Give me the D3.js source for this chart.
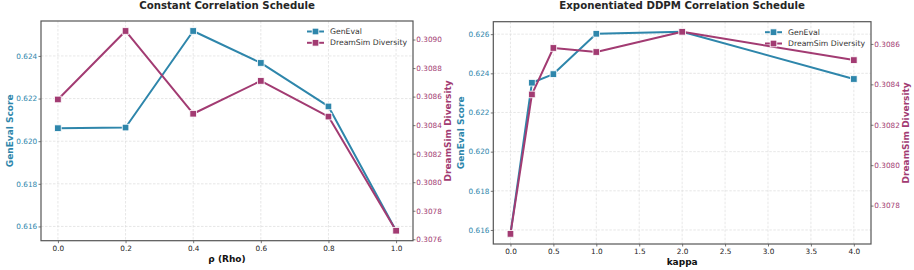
<!DOCTYPE html>
<html>
<head>
<meta charset="utf-8">
<script src="https://cdn.jsdelivr.net/npm/d3@7"></script>
<style>
  html, body { margin: 0; padding: 0; background: #fff; }
  svg { display: block; font-family: "DejaVu Sans", sans-serif; }
</style>
</head>
<body>
<svg id="chart" width="914" height="270"></svg>
<script>
// ---------- DATA ----------
const rhoValues = [0.0, 0.2, 0.4, 0.6, 0.8, 1.0];
const rhoGenEval = [0.62061, 0.62064, 0.62517, 0.62367, 0.62163, 0.6158];
const rhoDreamSim = [0.30858, 0.30906, 0.30848, 0.30871, 0.30846, 0.30766];

const kappaValues = [0.0, 0.25, 0.5, 1.0, 2.0, 4.0];
const kappaGenEval = [0.6158, 0.62352, 0.62396, 0.62602, 0.62612, 0.62371];
const kappaDreamSim = [0.30766, 0.30835, 0.30858, 0.30856, 0.30866, 0.30852];

const rhoTicks = [0.0, 0.2, 0.4, 0.6, 0.8, 1.0];
const rhoGenEvalTicks = [0.616, 0.618, 0.620, 0.622, 0.624];
const rhoDreamSimTicks = [0.3076, 0.3078, 0.3080, 0.3082, 0.3084, 0.3086, 0.3088, 0.3090];

const kappaTicks = [0.0, 0.5, 1.0, 1.5, 2.0, 2.5, 3.0, 3.5, 4.0];
const kappaGenEvalTicks = [0.616, 0.618, 0.620, 0.622, 0.624, 0.626];
const kappaDreamSimTicks = [0.3078, 0.3080, 0.3082, 0.3084, 0.3086];

const titles = ["Constant Correlation Schedule", "Exponentiated DDPM Correlation Schedule"];
const xLabels = ["ρ (Rho)", "kappa"];
const seriesNames = ["GenEval", "DreamSim Diversity"];
const axisNames = ["GenEval Score", "DreamSim Diversity"];

// ---------- STYLE ----------
const BLUE = "#2E86AB";
const MAG = "#A23B72";
const SPINE = "#555555";
const GRID = "#dcdcdc";

const svg = d3.select("#chart");

function padded(vals) {
  const [a, b] = d3.extent(vals);
  const m = (b - a) * 0.05;
  return [a - m, b + m];
}

function panel(cfg) {
  const { left, right, top, bottom } = cfg;
  const g = svg.append("g");

  const x = d3.scaleLinear().domain(padded(cfg.xs)).range([left, right]);
  const y1 = d3.scaleLinear().domain(padded(cfg.g)).range([bottom, top]);
  const y2 = d3.scaleLinear().domain(padded(cfg.d)).range([bottom, top]);

  // grid
  const grid = g.append("g");
  grid.selectAll("line.vx").data(cfg.xTicks).enter().append("line")
    .attr("x1", d => x(d)).attr("x2", d => x(d))
    .attr("y1", top).attr("y2", bottom)
    .attr("stroke", GRID).attr("stroke-width", 0.7).attr("stroke-dasharray", "2.5,1.5");
  grid.selectAll("line.hy").data(cfg.gTicks).enter().append("line")
    .attr("x1", left).attr("x2", right)
    .attr("y1", d => y1(d)).attr("y2", d => y1(d))
    .attr("stroke", GRID).attr("stroke-width", 0.7).attr("stroke-dasharray", "2.5,1.5");

  // axes
  const xAxis = d3.axisBottom(x).tickValues(cfg.xTicks).tickFormat(d3.format(".1f")).tickSize(2.5).tickPadding(2.8);
  const ax = g.append("g").attr("transform", `translate(0,${bottom})`).call(xAxis);
  ax.select(".domain").remove();
  ax.selectAll("line").attr("stroke", SPINE).attr("stroke-width", 0.8);
  ax.selectAll("text").attr("fill", "#222").attr("font-size", 7.3).attr("font-family", "DejaVu Sans");

  const yAxisL = d3.axisLeft(y1).tickValues(cfg.gTicks).tickFormat(d3.format(".3f")).tickSize(2.5).tickPadding(1.3);
  const al = g.append("g").attr("transform", `translate(${left},0)`).call(yAxisL);
  al.select(".domain").remove();
  al.selectAll("line").attr("stroke", SPINE).attr("stroke-width", 0.8);
  al.selectAll("text").attr("fill", BLUE).attr("font-size", 7.3).attr("font-family", "DejaVu Sans");

  const yAxisR = d3.axisRight(y2).tickValues(cfg.dTicks).tickFormat(d3.format(".4f")).tickSize(2.5).tickPadding(0.8);
  const ar = g.append("g").attr("transform", `translate(${right},0)`).call(yAxisR);
  ar.select(".domain").remove();
  ar.selectAll("line").attr("stroke", SPINE).attr("stroke-width", 0.8);
  ar.selectAll("text").attr("fill", MAG).attr("font-size", 7.3).attr("font-family", "DejaVu Sans");

  // spines
  g.append("rect").attr("x", left).attr("y", top)
    .attr("width", right - left).attr("height", bottom - top)
    .attr("fill", "none").attr("stroke", SPINE).attr("stroke-width", 1.2);

  // series
  function series(vals, ys, color) {
    const pts = cfg.xs.map((v, i) => [x(v), ys(vals[i])]);
    g.append("path").attr("d", d3.line()(pts))
      .attr("fill", "none").attr("stroke", color).attr("stroke-width", 2)
      .attr("stroke-linejoin", "round");
    g.selectAll(null).data(pts).enter().append("rect")
      .attr("x", d => d[0] - 3.3).attr("y", d => d[1] - 3.3)
      .attr("width", 6.6).attr("height", 6.6)
      .attr("fill", color).attr("stroke", "#fff").attr("stroke-width", 0.8);
  }
  series(cfg.g, y1, BLUE);
  series(cfg.d, y2, MAG);

  // legend
  const lg = g.append("g");
  const hx = right - 106;
  [[BLUE, seriesNames[0]], [MAG, seriesNames[1]]].forEach(([c, name], i) => {
    const yy = top + 10.5 + i * 11.3;
    lg.append("line").attr("x1", hx).attr("x2", hx + 17).attr("y1", yy).attr("y2", yy)
      .attr("stroke", c).attr("stroke-width", 2);
    lg.append("rect").attr("x", hx + 8.5 - 3.3).attr("y", yy - 3.3).attr("width", 6.6).attr("height", 6.6)
      .attr("fill", c).attr("stroke", "#fff").attr("stroke-width", 0.8);
    lg.append("text").attr("x", hx + 23).attr("y", yy).attr("dy", "0.35em")
      .attr("font-size", 7.7).attr("fill", "#333").text(name);
  });

  // title
  g.append("text").attr("x", (left + right) / 2).attr("y", 8.5)
    .attr("text-anchor", "middle").attr("font-weight", "bold").attr("font-size", 10.2)
    .attr("fill", "#262626").text(cfg.title);

  // x label
  g.append("text").attr("x", (left + right) / 2).attr("y", cfg.xlabY)
    .attr("text-anchor", "middle").attr("font-weight", "bold").attr("font-size", 9)
    .attr("fill", "#111").text(cfg.xlabel);

  // y labels (x = baseline position)
  const midY = (top + bottom) / 2;
  g.append("text").attr("transform", `translate(${cfg.ylabLX},${midY}) rotate(-90)`)
    .attr("text-anchor", "middle").attr("font-weight", "bold").attr("font-size", 9)
    .attr("fill", BLUE).text(axisNames[0]);
  g.append("text").attr("transform", `translate(${cfg.ylabRX},${midY}) rotate(-90)`)
    .attr("text-anchor", "middle").attr("font-weight", "bold").attr("font-size", 9)
    .attr("fill", MAG).text(axisNames[1]);
}

panel({
  left: 41, right: 413, top: 21, bottom: 240.7,
  xs: rhoValues, g: rhoGenEval, d: rhoDreamSim,
  xTicks: rhoTicks, gTicks: rhoGenEvalTicks, dTicks: rhoDreamSimTicks,
  title: titles[0], xlabel: xLabels[0], xlabY: 261.5, ylabLX: 13, ylabRX: 450.5
});
panel({
  left: 493.3, right: 871, top: 21.7, bottom: 244,
  xs: kappaValues, g: kappaGenEval, d: kappaDreamSim,
  xTicks: kappaTicks, gTicks: kappaGenEvalTicks, dTicks: kappaDreamSimTicks,
  title: titles[1], xlabel: xLabels[1], xlabY: 264.5, ylabLX: 463.5, ylabRX: 908.5
});
</script>
</body>
</html>
